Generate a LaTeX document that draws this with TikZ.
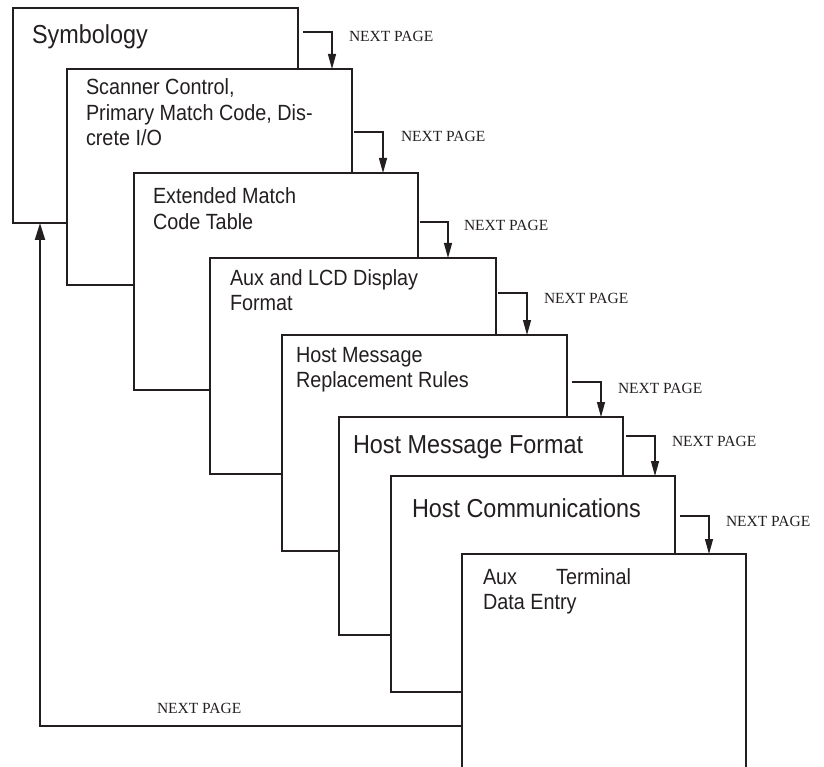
\documentclass[tikz,border=0pt]{standalone}
\usepackage{fontspec}
\setmainfont{Liberation Serif}
\newfontfamily\boxfont[FakeStretch=0.9]{Liberation Sans}
\usetikzlibrary{arrows.meta}
\definecolor{ink}{RGB}{35,31,32}
\begin{document}
\begin{tikzpicture}[x=1pt,y=-1pt,
  page/.style={draw=ink, line width=2.2pt, fill=white, rectangle, inner sep=0pt, outer sep=0pt, anchor=north west},
  smalltxt/.style={anchor=base west, inner sep=0pt, outer sep=0pt, text=ink, font=\boxfont\fontsize{22}{25.5}\selectfont},
  bigtxt/.style={anchor=base west, inner sep=0pt, outer sep=0pt, text=ink, font=\boxfont\fontsize{26}{30}\selectfont},
  nptxt/.style={anchor=base west, inner sep=0pt, outer sep=0pt, text=ink, font=\fontsize{15.5}{18}\selectfont},
  pagearrow/.style={draw=ink, line width=1.2pt, -{Triangle[length=15pt,width=8pt]}},
  backarrow/.style={draw=ink, line width=2pt, -{Triangle[length=17pt,width=10pt]}}]
\useasboundingbox (0,0) rectangle (824,767);
% pages
\node[page, minimum width=285pt, minimum height=215pt] (b1) at (13,8) {};
\node[page, minimum width=285pt, minimum height=216pt] (b2) at (67,69) {};
\node[page, minimum width=284pt, minimum height=217pt] (b3) at (134,173) {};
\node[page, minimum width=286pt, minimum height=216pt] (b4) at (210,258) {};
\node[page, minimum width=285pt, minimum height=216pt] (b5) at (282,335) {};
\node[page, minimum width=284pt, minimum height=218pt] (b6) at (339,417) {};
\node[page, minimum width=284pt, minimum height=216pt] (b7) at (391,476) {};
\node[page, minimum width=284pt, minimum height=222pt] (b8) at (462,554) {};
% titles
\node[bigtxt] (t1) at (32,44) {Symbology};
\node[smalltxt] (t2) at (86,95) {\begin{tabular}[t]{@{}l@{}}Scanner Control,\\Primary Match Code, Dis-\\crete I/O\end{tabular}};
\node[smalltxt] (t3) at (153,204) {\begin{tabular}[t]{@{}l@{}}Extended Match\\Code Table\end{tabular}};
\node[smalltxt] (t4) at (230,285) {\begin{tabular}[t]{@{}l@{}}Aux and LCD Display\\Format\end{tabular}};
\node[smalltxt] (t5) at (296,362) {\begin{tabular}[t]{@{}l@{}}Host Message\\Replacement Rules\end{tabular}};
\node[bigtxt] (t6) at (353,453) {Host Message Format};
\node[bigtxt] (t7) at (412,517) {Host Communications};
\node[smalltxt] (t8) at (483,584) {\begin{tabular}[t]{@{}l@{}}Aux\hspace{39pt}Terminal\\Data Entry\end{tabular}};
% next page arrows
\coordinate (s1) at (303,32);  \coordinate (c1) at (332,32);
\coordinate (s2) at (354,132); \coordinate (c2) at (383,132);
\coordinate (s3) at (420,222); \coordinate (c3) at (448,222);
\coordinate (s4) at (498,293); \coordinate (c4) at (527,293);
\coordinate (s5) at (572,382); \coordinate (c5) at (601,382);
\coordinate (s6) at (626,436); \coordinate (c6) at (655,436);
\coordinate (s7) at (680,516); \coordinate (c7) at (709,516);
\draw[pagearrow] (s1) -- (c1) -- (c1 |- b2.north);
\draw[pagearrow] (s2) -- (c2) -- (c2 |- b3.north);
\draw[pagearrow] (s3) -- (c3) -- (c3 |- b4.north);
\draw[pagearrow] (s4) -- (c4) -- (c4 |- b5.north);
\draw[pagearrow] (s5) -- (c5) -- (c5 |- b6.north);
\draw[pagearrow] (s6) -- (c6) -- (c6 |- b7.north);
\draw[pagearrow] (s7) -- (c7) -- (c7 |- b8.north);
\node[nptxt] (n1) at (349,42) {NEXT PAGE};
\node[nptxt] (n2) at (401,142) {NEXT PAGE};
\node[nptxt] (n3) at (464,231) {NEXT PAGE};
\node[nptxt] (n4) at (544,303) {NEXT PAGE};
\node[nptxt] (n5) at (618,393) {NEXT PAGE};
\node[nptxt] (n6) at (672,446) {NEXT PAGE};
\node[nptxt] (n7) at (726,526) {NEXT PAGE};
% return arrow
\coordinate (r1) at (40,726);
\draw[backarrow] (r1 -| b8.west) -- (r1) -- (r1 |- b1.south);
\node[nptxt] (n8) at (157,713) {NEXT PAGE};
\end{tikzpicture}
\end{document}
